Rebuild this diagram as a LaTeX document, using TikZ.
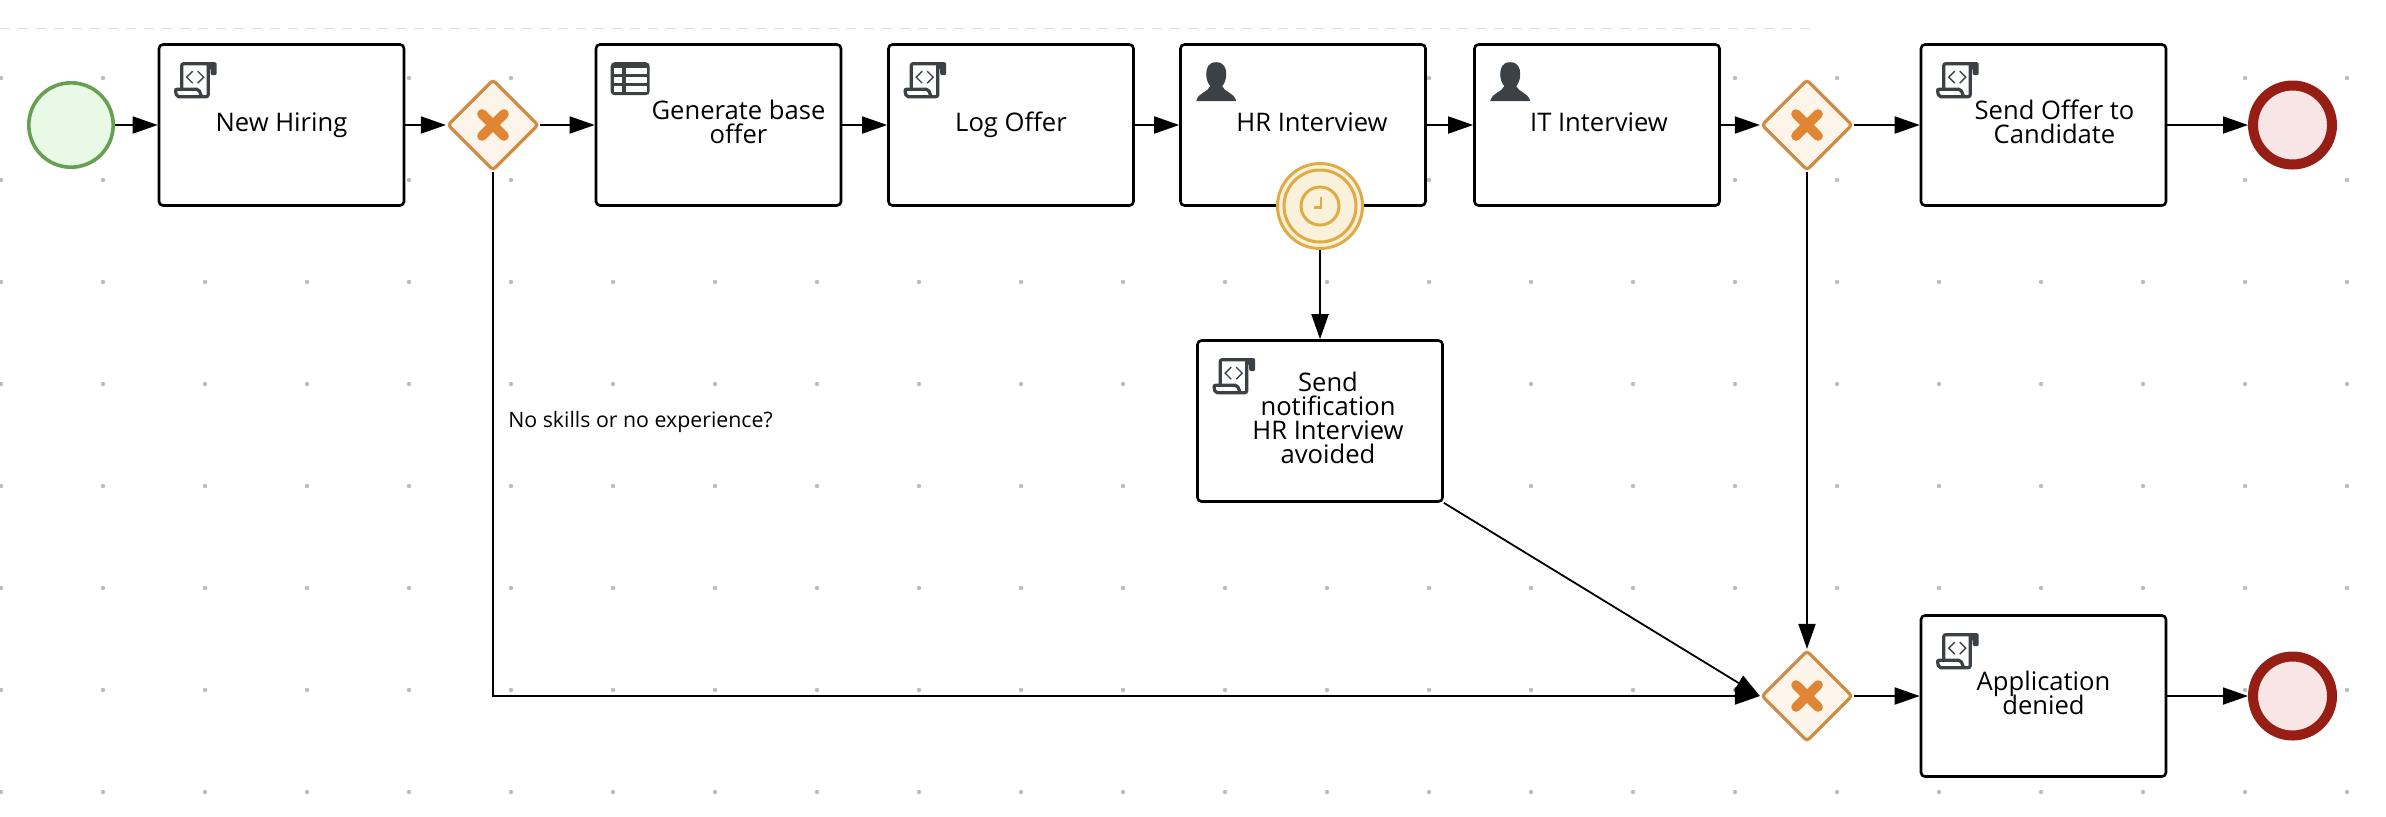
\documentclass[tikz,border=0pt]{standalone}
\usepackage{fontspec}
\setmainfont{Open Sans}
\usetikzlibrary{arrows.meta,shapes.geometric}
\setlength{\lineskiplimit}{-20pt}
\definecolor{icondark}{HTML}{3C4146}
\definecolor{griddot}{HTML}{BCBCBC}
\definecolor{gatestroke}{HTML}{CF8A44}
\definecolor{gatefill}{HTML}{FDF4EA}
\definecolor{gatecross}{HTML}{E08534}
\definecolor{timerstroke}{HTML}{DFAB45}
\definecolor{timerfill}{HTML}{FAF1DA}
\tikzset{
	taskbox/.style = {draw = black, fill = white, line width = 1.3pt, rounded corners = 2pt, minimum width = 122.5pt, minimum height = 80.5pt, inner sep = 0pt, align = center, font = \fontsize{12.8}{12}\selectfont},
	startevent/.style = {circle, draw = {rgb,255:red,102;green,160;blue,80}, fill = {rgb,255:red,232;green,249;blue,229}, line width = 1.8pt, minimum size = 42.2pt, inner sep = 0pt},
	endevent/.style = {circle, draw = {rgb,255:red,150;green,30;blue,20}, fill = {rgb,255:red,248;green,230;blue,230}, line width = 5pt, minimum size = 39.5pt, inner sep = 0pt},
	timerevent/.style = {circle, draw = timerstroke, fill = timerfill, line width = 1.5pt, minimum size = 42.5pt, inner sep = 0pt},
	gateway/.style = {diamond, aspect = 1, draw = gatestroke, fill = gatefill, line width = 1.6pt, rounded corners = 1.5pt, minimum width = 45.5pt, minimum height = 45.5pt, inner sep = 0pt},
	flow/.style = {draw = black, line width = .9pt, -{Triangle[length = 12.5pt, width = 8.5pt]}},
	crossline/.style = {draw = gatecross, line width = 4.8pt, line cap = round},
	icon/.style = {draw = icondark, line width = 1.6pt, rounded corners = 1pt}
}
\newcommand{\gatecross}[1]{
	\draw[crossline] ([shift = {(-11,-11)}]#1.center) -- ([shift = {(11,11)}]#1.center);
	\draw[crossline] ([shift = {(-11,11)}]#1.center) -- ([shift = {(11,-11)}]#1.center);
}
\newcommand{\scripticon}[1]{
	\begin{scope}[shift = {([shift = {(16,19)}]#1.north west)}]
		\draw[icon] (8,27) -- (8,1.5) -- (38,1.5);
		\draw[icon] (34.5,1.5) -- (34.5,34.5) -- (3,34.5) -- (1.5,27) -- (25,27) -- (28,34.5);
		\fill[icondark, rounded corners = 1pt] (34,0) -- (43,0) -- (43,13) -- (37,13) -- (37,6) -- (34,6) -- cycle;
		\draw[icondark, line width = .7pt] (19,9) -- (13,15) -- (19,21) (24,9) -- (30,15) -- (24,21);
	\end{scope}
}
\newcommand{\usericon}[1]{
	\begin{scope}[shift = {([shift = {(17,19)}]#1.north west)}]
		\fill[icondark] (20,0) .. controls (12,0) and (10,6) .. (10,12) .. controls (10,18) and (12,21) .. (14,24) .. controls (12,30) and (2,30) .. (0,39) -- (40,39) .. controls (38,30) and (28,30) .. (26,24) .. controls (28,21) and (30,18) .. (30,12) .. controls (30,6) and (28,0) .. (20,0) -- cycle;
	\end{scope}
}
\newcommand{\tableicon}[1]{
	\begin{scope}[shift = {([shift = {(16,19)}]#1.north west)}]
		\fill[icondark, rounded corners = 2pt] (0,0) rectangle (39,33);
		\foreach \ytop/\ybot in {6/12, 15/21, 24/30}{
			\fill[white] (3,\ytop) rectangle (11,\ybot);
			\fill[white] (15,\ytop) rectangle (36,\ybot);
		}
	\end{scope}
}
\begin{document}
\begin{tikzpicture}[x = .5pt, y = -.5pt]
		\useasboundingbox (0,0) rectangle (2386,816);
		\foreach \row in {0,...,7}{
			\foreach \col in {0,...,23}{
				\fill[griddot] (1 + 102*\col, 78 + 102*\row) circle (1.1pt);
			}
		}
		\draw[griddot!50, line width = .7pt, dash pattern = on 5pt off 4pt] (0,28.5) -- (1811,28.5);

		\node[startevent] (start) at (71,125) {};
		\node[taskbox] (newhiring) at (281.5,125) {New Hiring};
		\node[gateway] (gateone) at (493,125) {};
		\node[taskbox] (baseoffer) at (718.5,125) {\hspace*{20pt}Generate base\\\hspace*{20pt}offer\vphantom{g}};
		\node[taskbox] (logoffer) at (1011,125) {Log Offer};
		\node[taskbox] (hrinterview) at (1303,125) {\hspace*{9pt}HR Interview\vphantom{g}};
		\node[taskbox] (itinterview) at (1597,125) {\hspace*{2pt}IT Interview\vphantom{g}};
		\node[gateway] (gatetwo) at (1807,125) {};
		\node[taskbox] (sendoffer) at (2043.5,125) {\hspace*{11pt}Send Offer to\\\hspace*{11pt}Candidate\vphantom{g}};
		\node[endevent] (endoffer) at (2292.5,125) {};
		\node[timerevent] (hrtimer) at (1320,206) {};
		\node[taskbox] (notifyhr) at (1320,421) {\hspace*{8pt}Send\\\hspace*{8pt}notification\\\hspace*{8pt}HR Interview\\\hspace*{8pt}avoided\vphantom{g}};
		\node[gateway] (gatethree) at (1807,696) {};
		\node[taskbox] (denied) at (2043.5,696) {Application\\denied\vphantom{g}};
		\node[endevent] (enddenied) at (2292.5,696) {};
		\node[font = \fontsize{10.65}{12}\selectfont] (noskills) at (640.5,422) {No skills or no experience?};

		\draw[flow] (start) -- (newhiring);
		\draw[flow] (newhiring) -- (gateone);
		\draw[flow] (gateone) -- (baseoffer);
		\draw[flow] (baseoffer) -- (logoffer);
		\draw[flow] (logoffer) -- (hrinterview);
		\draw[flow] (hrinterview) -- (itinterview);
		\draw[flow] (itinterview) -- (gatetwo);
		\draw[flow] (gatetwo) -- (sendoffer);
		\draw[flow] (sendoffer) -- (endoffer);
		\draw[flow] (hrtimer) -- (notifyhr);
		\draw[flow] (gateone.south) |- (gatethree.west);
		\draw[flow] (notifyhr.south east) -- (gatethree.west);
		\draw[flow] (gatetwo.south) -- (gatethree.north);
		\draw[flow] (gatethree) -- (denied);
		\draw[flow] (denied) -- (enddenied);

		\gatecross{gateone}
		\gatecross{gatetwo}
		\gatecross{gatethree}
		\scripticon{newhiring}
		\tableicon{baseoffer}
		\scripticon{logoffer}
		\usericon{hrinterview}
		\usericon{itinterview}
		\scripticon{sendoffer}
		\scripticon{notifyhr}
		\scripticon{denied}

		\draw[timerstroke, line width = 1.5pt] (hrtimer.center) circle [radius = 18pt];
		\draw[timerstroke, line width = 1.5pt] (hrtimer.center) circle [radius = 9.5pt];
		\draw[timerstroke, line width = 1.2pt] ([shift = {(1,-9)}]hrtimer.center) -- ([shift = {(1,1.5)}]hrtimer.center) -- ([shift = {(-6,1.5)}]hrtimer.center);
	\end{tikzpicture}
\end{document}
